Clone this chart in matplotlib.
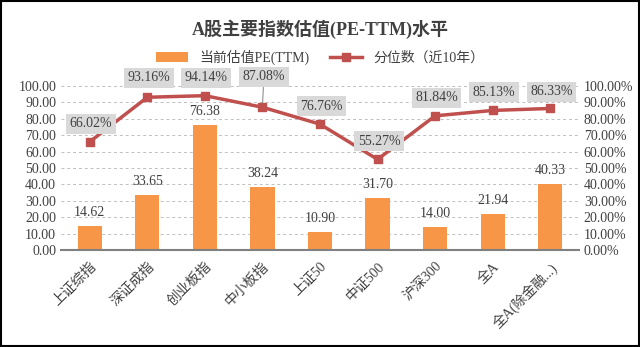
import matplotlib
matplotlib.use("Agg")
import matplotlib.pyplot as plt
from matplotlib.lines import Line2D
from matplotlib.patches import Patch, Rectangle

plt.rcParams['font.family'] = ['Liberation Serif', 'Noto Sans CJK SC', 'DejaVu Sans']

# 数据
categories = ['上证综指', '深证成指', '创业板指', '中小板指', '上证50',
              '中证500', '沪深300', '全A', '全A(除金融...)']
pe_ttm = [14.62, 33.65, 76.38, 38.24, 10.90, 31.70, 14.00, 21.94, 40.33]
percentile = [66.02, 93.16, 94.14, 87.08, 76.76, 55.27, 81.84, 85.13, 86.33]

bar_color = '#F79646'
line_color = '#C0504D'

fig = plt.figure(figsize=(6.4, 3.47), dpi=100)
ax = fig.add_axes([0.0953, 0.2795, 0.8094, 0.4725])
ax2 = ax.twinx()

x = list(range(len(categories)))
ax.bar(x, pe_ttm, width=0.42, color=bar_color, zorder=2)
ax.set_xlim(-0.5, len(categories) - 0.5)
ax.set_ylim(0, 100)
ax.set_yticks(range(0, 101, 10))
ax.set_yticklabels([f'{v:.2f}' for v in range(0, 101, 10)], fontsize=10)
ax.grid(axis='y', linestyle=(0, (3, 3)), color='#BFBFBF', linewidth=0.7, zorder=0)
ax.set_axisbelow(True)

for xi, v in zip(x, pe_ttm):
    ax.annotate(f'{v:.2f}', (xi, v), xytext=(0, 5), textcoords='offset points',
                ha='center', va='bottom', fontsize=10, color='#404040')

ax2.plot(x, percentile, color=line_color, linewidth=2.5, marker='s', markersize=6, zorder=3)
ax2.set_ylim(0, 100)
ax2.set_yticks(range(0, 101, 10))
ax2.set_yticklabels([f'{v:.2f}%' for v in range(0, 101, 10)], fontsize=10)

# 标签偏移 (points)
offsets = [13, 14, 13, 22, 13, 13, 13, 13, 12]
for xi, v, off in zip(x, percentile, offsets):
    kw = {}
    if off > 20:
        kw['arrowprops'] = dict(arrowstyle='-', color='#808080', linewidth=0.7, shrinkA=0, shrinkB=3)
    ax2.annotate(f'{v:.2f}%', (xi, v), xytext=(1, off), textcoords='offset points',
                 ha='center', va='center', fontsize=10, color='#404040',
                 bbox=dict(boxstyle='square,pad=0.25', facecolor='#D9D9D9', edgecolor='none'),
                 **kw)

for a in (ax, ax2):
    for s in ('top', 'left', 'right'):
        a.spines[s].set_visible(False)
    a.tick_params(length=0, colors='#404040')
ax.spines['bottom'].set_color('#808080')
ax.spines['bottom'].set_linewidth(1.5)
ax2.spines['bottom'].set_visible(False)

ax.set_xticks(x)
ax.set_xticklabels(categories, rotation=45, ha='right', rotation_mode='anchor', fontsize=10)
ax.tick_params(axis='x', pad=7)

fig.text(0.5, 0.915, 'A股主要指数估值(PE-TTM)水平', ha='center', va='center',
         fontsize=13, fontweight='bold', color='#404040')

handles = [Patch(facecolor=bar_color, edgecolor='none'),
           Line2D([], [], color=line_color, linewidth=2.5, marker='s', markersize=6)]
fig.legend(handles, ['当前估值PE(TTM)', '分位数（近10年）'], loc='center',
           bbox_to_anchor=(0.5, 0.835), ncol=2, frameon=False, fontsize=10,
           handlelength=2.3, columnspacing=1.5, labelcolor='#404040')

fig.patches.append(Rectangle((0.002, 0.003), 0.996, 0.994, transform=fig.transFigure,
                             fill=False, edgecolor='black', linewidth=1.5))

fig.savefig('out.png', dpi=100)
